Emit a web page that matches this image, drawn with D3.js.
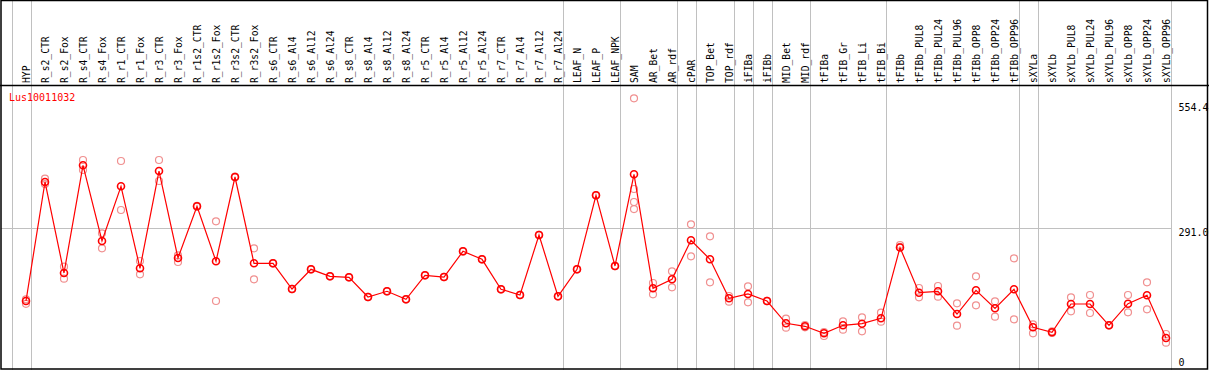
<!DOCTYPE html>
<html>
<head>
<meta charset="utf-8">
<script src="https://cdn.jsdelivr.net/npm/d3@7"></script>
<style>
  body { margin: 0; background: #fff; }
  text { font-family: "DejaVu Sans Mono", monospace; }
</style>
</head>
<body>
<div id="chart"></div>
<script>
// samples along the x axis
var categories = ["HYP", "R_s2_CTR", "R_s2_Fox", "R_s4_CTR", "R_s4_Fox", "R_r1_CTR", "R_r1_Fox",
  "R_r3_CTR", "R_r3_Fox", "R_r1s2_CTR", "R_r1s2_Fox", "R_r3s2_CTR", "R_r3s2_Fox",
  "R_s6_CTR", "R_s6_Al4", "R_s6_Al12", "R_s6_Al24", "R_s8_CTR", "R_s8_Al4", "R_s8_Al12", "R_s8_Al24",
  "R_r5_CTR", "R_r5_Al4", "R_r5_Al12", "R_r5_Al24", "R_r7_CTR", "R_r7_Al4", "R_r7_Al12", "R_r7_Al24",
  "LEAF_N", "LEAF_P", "LEAF_NPK", "SAM", "AR_Bet", "AR_rdf", "cPAR", "TOP_Bet", "TOP_rdf",
  "iFIBa", "iFIBb", "MID_Bet", "MID_rdf", "tFIBa", "tFIB_Gr", "tFIB_Li", "tFIB_Bi",
  "tFIBb", "tFIBb_PUL8", "tFIBb_PUL24", "tFIBb_PUL96", "tFIBb_OPP8", "tFIBb_OPP24", "tFIBb_OPP96",
  "sXYLa", "sXYLb", "sXYLb_PUL8", "sXYLb_PUL24", "sXYLb_PUL96", "sXYLb_OPP8", "sXYLb_OPP24", "sXYLb_OPP96"];

// mean expression per sample
var means = [137.0, 387.9, 196.0, 423.1, 263.5, 378.8, 205.9, 411.0, 227.7, 336.6, 220.7, 398.4, 216.5,
  216.5, 162.3, 203.8, 189.1, 187.0, 145.4, 157.5, 140.6, 191.2, 187.6, 241.8, 224.9, 161.7, 149.7, 276.1, 146.9,
  203.8, 359.8, 210.8, 404.1, 163.8, 182.8, 265.0, 224.9, 142.7, 151.8, 137.0, 90.0, 83.7, 68.9, 85.8, 89.2, 100.5,
  249.8, 154.5, 157.5, 109.6, 159.6, 121.6, 161.7, 81.6, 71.0, 130.7, 130.7, 85.8, 131.3, 149.0, 59.0];

// replicate values per sample
var replicates = [[140.6, 131.0], [394.8, 383.6], [209.3, 184.0], [434.2, 413.2], [279.7, 248.1],
  [432.1, 328.8], [221.3, 193.3], [434.2, 390.0], [233.3, 219.2], [337.5, 335.8], [305.0, 137.0],
  [399.0, 397.8], [248.1, 182.8], [217.0, 216.0], [162.8, 161.8], [204.3, 203.3], [189.6, 188.6],
  [187.5, 186.5], [145.9, 144.9], [158.0, 157.0], [141.1, 140.1], [191.7, 190.7], [188.1, 187.1],
  [242.3, 241.3], [225.4, 224.4], [162.2, 161.2], [150.2, 149.2], [276.6, 275.6], [147.4, 146.4],
  [204.3, 203.3], [360.3, 359.3], [211.3, 210.3], [564.3, 373.1, 345.7, 330.9], [175.0, 151.1],
  [199.6, 165.9], [298.7, 231.2], [273.4, 176.4], [147.6, 135.5], [168.0, 134.3], [137.5, 136.5],
  [99.7, 80.7], [86.4, 81.6], [71.7, 63.2], [94.2, 76.5], [102.7, 73.1], [112.4, 93.4],
  [255.1, 251.0], [164.4, 144.8], [168.6, 146.1], [132.2, 85.0], [189.1, 128.0], [136.4, 103.9],
  [227.0, 98.4], [87.9, 68.9], [73.1, 69.6], [144.8, 115.3], [149.7, 111.7], [86.3, 85.3],
  [149.7, 113.2], [176.4, 119.5], [67.5, 49.1]];

// last sample of each group (a grey separator follows it)
var groupEnds = ["HYP", "R_r7_Al24", "LEAF_NPK", "AR_rdf", "cPAR", "TOP_rdf", "iFIBa", "iFIBb",
  "MID_rdf", "tFIB_Bi", "tFIBb_OPP96", "sXYLa", "sXYLb_OPP96"];

var tickValues = [0, 291.0, 554.4];
var tickLabels = ["0", "291.0", "554.4"];
var geneName = "Lus10011032";

var width = 1209;
var height = 370;
var headerBottom = 85.5;

var svg = d3.select("#chart").append("svg")
  .attr("width", width)
  .attr("height", height);

var xScale = d3.scalePoint()
  .domain(categories)
  .range([26, 1166]);

var yScale = d3.scaleLinear()
  .domain([0, 554.4])
  .range([366, 103]);

var step = xScale.step();

// vertical group separators
var sepX = [xScale(categories[0]) - step + 4.5].concat(groupEnds.map(function(c) { return xScale(c) + 4.5; }));
svg.selectAll(".vsep")
  .data(sepX)
  .enter().append("line")
  .attr("x1", function(d) { return Math.round(d) + 0.5; })
  .attr("x2", function(d) { return Math.round(d) + 0.5; })
  .attr("y1", 0)
  .attr("y2", height)
  .attr("stroke", "#c0c0c0")
  .attr("stroke-width", 1);

// horizontal line at the middle tick
svg.append("line")
  .attr("x1", 1)
  .attr("x2", Math.round(sepX[sepX.length - 1]) + 0.5)
  .attr("y1", Math.round(yScale(291.0)) + 0.5)
  .attr("y2", Math.round(yScale(291.0)) + 0.5)
  .attr("stroke", "#c0c0c0")
  .attr("stroke-width", 1);

// frame and header separator
svg.append("rect")
  .attr("x", 1)
  .attr("y", 0.5)
  .attr("width", 1206.5)
  .attr("height", 368.5)
  .attr("fill", "none")
  .attr("stroke", "#000")
  .attr("stroke-width", 1.5);

svg.append("line")
  .attr("x1", 0)
  .attr("x2", width)
  .attr("y1", headerBottom)
  .attr("y2", headerBottom)
  .attr("stroke", "#000")
  .attr("stroke-width", 1.5);

// rotated sample labels
svg.selectAll(".lab")
  .data(categories)
  .enter().append("text")
  .attr("transform", function(d) { return "translate(" + (xScale(d) + 3.5) + ",83) rotate(-90)"; })
  .attr("font-size", "9.7px")
  .attr("fill", "#000")
  .text(function(d) { return d; });

// y tick labels on the right
svg.selectAll(".ytick")
  .data(tickValues)
  .enter().append("text")
  .attr("x", 1178.5)
  .attr("y", function(d) { return Math.min(yScale(d) + 8, 365.5); })
  .attr("font-size", "10px")
  .attr("fill", "#000")
  .text(function(d, i) { return tickLabels[i]; });

svg.append("text")
  .attr("x", 9)
  .attr("y", 100.5)
  .attr("font-size", "10px")
  .attr("fill", "#ff0000")
  .text(geneName);

// replicate circles
var repPoints = [];
replicates.forEach(function(list, i) {
  list.forEach(function(v) { repPoints.push({ cat: categories[i], value: v }); });
});

svg.selectAll(".rep")
  .data(repPoints)
  .enter().append("circle")
  .attr("cx", function(d) { return xScale(d.cat); })
  .attr("cy", function(d) { return yScale(d.value); })
  .attr("r", 3.5)
  .attr("fill", "none")
  .attr("stroke", "#f09090")
  .attr("stroke-width", 1.2);

// mean line
var line = d3.line()
  .x(function(d, i) { return xScale(categories[i]); })
  .y(function(d) { return yScale(d); });

svg.append("path")
  .datum(means)
  .attr("d", line)
  .attr("fill", "none")
  .attr("stroke", "#ff0000")
  .attr("stroke-width", 1.2);

svg.selectAll(".mean")
  .data(means)
  .enter().append("circle")
  .attr("cx", function(d, i) { return xScale(categories[i]); })
  .attr("cy", function(d) { return yScale(d); })
  .attr("r", 3.5)
  .attr("fill", "none")
  .attr("stroke", "#ff0000")
  .attr("stroke-width", 1.6);
</script>
</body>
</html>
